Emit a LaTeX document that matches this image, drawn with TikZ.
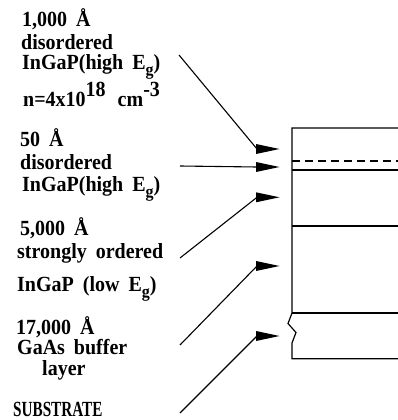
\documentclass[tikz,border=0pt]{standalone}
\usepackage{fontspec}
\setmainfont{Liberation Serif}[WordSpace=1.8]
\newcommand\lowg[1]{\raisebox{-5pt}{\fontsize{16}{16}\selectfont #1}}
\newcommand\upsc[1]{\raisebox{9pt}{#1}}
\newcommand\tall[1]{\scalebox{1}[1.08]{#1}}
\tikzset{
  lbl/.style={font=\fontsize{20}{22}\selectfont\bfseries, inner sep=0pt, anchor=base west},
  layer/.style={line width=1.2pt},
  conn/.style={line width=1.1pt},
  ahead/.style={fill=black}
}
\begin{document}
\begin{tikzpicture}[x=1pt,y=-1pt]
\useasboundingbox (0,0) rectangle (398,420);
% labels
\node[lbl] (l1) at (22,26.7) {\tall{1,000 Å}};
\node[lbl] (l2) at (21,49) {\tall{disordered}};
\node[lbl] (l3) at (22,70) {\tall{InGaP(high E\lowg{g})}};
\node[lbl] (l4) at (23,106) {\tall{n=4x10\upsc{18}\hspace{12pt}cm\upsc{-3}}};
\node[lbl] (l5) at (20,146.7) {\tall{50 Å}};
\node[lbl] (l6) at (20,169.3) {\tall{disordered}};
\node[lbl] (l7) at (22,191.7) {\tall{InGaP(high E\lowg{g})}};
\node[lbl] (l8) at (20,235) {\tall{5,000 Å}};
\node[lbl] (l9) at (17,258) {\tall{strongly ordered}};
\node[lbl] (l10) at (17,291.7) {\tall{InGaP (low E\lowg{g})}};
\node[lbl] (l11) at (16,334) {\tall{17,000 Å}};
\node[lbl] (l12) at (17,354) {\tall{GaAs buffer}};
\node[lbl] (l13) at (42,375) {\tall{layer}};
\node[lbl] (l14) at (13,416.5) {\scalebox{0.76}[1.08]{SUBSTRATE}};
% structure
\coordinate (tl) at (292,128);
\coordinate (tr) at (398,128);
\coordinate (bl) at (292,358.7);
\coordinate (br) at (398,358.7);
\draw[layer] (tr) -- (tl) -- (292,313) -- (288,323.5) -- (296,332.5) -- (292,343) -- (bl) -- (br);
\draw[layer, dash pattern=on 8pt off 5pt] (292,161) -- (398,161);
\draw[layer] (292,170) -- (398,170);
\draw[layer] (292,226) -- (398,226);
\draw[layer] (292,313) -- (398,313);
% arrows
\foreach \i/\sx/\sy/\ty in {1/179/55/149, 2/180/166/167, 3/180/258/197.3, 4/180/345/266, 5/180/413/336}{
  \coordinate (s\i) at (\sx,\sy);
  \coordinate (t\i) at (279.5,\ty);
  \coordinate (b\i) at (257,\ty);
  \draw[conn] (s\i) -- (b\i);
  \fill[ahead] (t\i) -- ([shift={(-23.5,5)}]t\i) -- ([shift={(-23.5,-5)}]t\i) -- cycle;
}
\end{tikzpicture}
\end{document}
